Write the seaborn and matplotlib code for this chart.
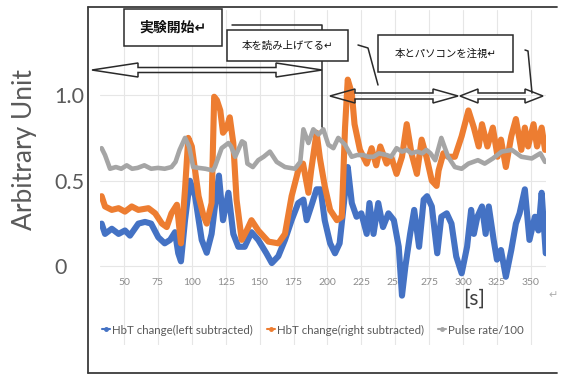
import matplotlib
matplotlib.use("Agg")
import matplotlib.pyplot as plt
from matplotlib.patches import Polygon, Rectangle
from matplotlib.lines import Line2D
import numpy as np
import pandas as pd
import seaborn as sns

# ---- data -------------------------------------------------------------
left_t = [33.5, 36, 41, 46, 50.7, 54.4, 60.6, 65.5, 70, 75.3, 80, 84, 87.6, 90, 92, 95,
          98.6, 102.4, 107.3, 111, 114.6, 118.3, 120, 123, 127, 130.6, 134.3, 139, 144,
          149, 155, 159, 163.8, 168.7, 173.6, 178.5, 182.3, 184.7, 188, 192, 195, 198,
          202, 205.6, 209, 213, 215, 218, 221.5, 225, 229, 231, 234, 237.5, 241, 245,
          249, 252.6, 255, 257.5, 261, 264, 267.6, 271, 273.5, 277, 281, 284, 288, 291.5,
          295, 299, 303, 306, 308, 310.6, 314, 316.7, 319, 322.6, 325, 328, 331.6, 335.6,
          339, 341.7, 345.6, 349, 353, 355.6, 358, 361]
left_v = [0.25, 0.19, 0.22, 0.19, 0.21, 0.18, 0.25, 0.26, 0.25, 0.17, 0.135, 0.155, 0.20,
          0.077, 0.03, 0.27, 0.50, 0.41, 0.155, 0.08, 0.19, 0.43, 0.53, 0.27, 0.43, 0.19,
          0.115, 0.115, 0.20, 0.155, 0.077, 0.02, 0.06, 0.155, 0.27, 0.37, 0.39, 0.27, 0.35,
          0.45, 0.45, 0.27, 0.135, 0.077, 0.135, 0.43, 0.58, 0.37, 0.29, 0.31, 0.19, 0.37,
          0.19, 0.37, 0.23, 0.31, 0.27, 0.115, -0.17, 0.0, 0.19, 0.33, 0.115, 0.39, 0.41,
          0.35, 0.077, 0.29, 0.31, 0.25, 0.058, -0.04, 0.115, 0.33, 0.19, 0.29, 0.35, 0.19,
          0.35, 0.155, 0.04, 0.096, -0.06, 0.096, 0.25, 0.31, 0.45, 0.155, 0.29, 0.21, 0.43,
          0.077]

right_t = [33.5, 36, 41, 46, 50.7, 55.7, 60.6, 68, 73, 78, 81.5, 85, 89, 92, 95, 97.4, 100,
           105, 108.5, 111, 114.6, 116.5, 118.5, 121, 123, 125.8, 128, 130.6, 133, 136.8,
           140.5, 144, 149, 156.5, 163.8, 168.7, 173.6, 178.5, 182, 186, 188, 192, 194.5,
           198, 202, 207, 210.6, 213, 215, 218, 220, 224, 229, 232.6, 236, 239, 243.7, 247,
           251, 255, 258.5, 262, 266, 269.5, 273, 277, 280.5, 282, 285.5, 289, 294, 299, 304,
           308, 311.6, 314, 318, 322, 325.5, 328, 331.6, 335.6, 339, 343, 345.6, 348, 352,
           354.6, 358, 360.5]
right_v = [0.41, 0.35, 0.33, 0.34, 0.32, 0.35, 0.33, 0.34, 0.31, 0.25, 0.23, 0.31, 0.36,
           0.135, 0.45, 0.75, 0.70, 0.41, 0.30, 0.25, 0.37, 0.99, 0.97, 0.91, 0.78, 0.81,
           0.87, 0.72, 0.39, 0.155, 0.21, 0.27, 0.21, 0.145, 0.135, 0.19, 0.41, 0.56, 0.60,
           0.43, 0.56, 0.78, 0.63, 0.47, 0.33, 0.27, 0.29, 0.81, 1.09, 1.01, 0.83, 0.68,
           0.60, 0.69, 0.59, 0.70, 0.60, 0.64, 0.54, 0.64, 0.83, 0.66, 0.54, 0.74, 0.64,
           0.50, 0.47, 0.56, 0.66, 0.64, 0.64, 0.76, 0.91, 0.81, 0.70, 0.83, 0.70, 0.81,
           0.64, 0.74, 0.58, 0.76, 0.86, 0.68, 0.81, 0.70, 0.83, 0.70, 0.81, 0.68]

pulse_t = [33.5, 36, 39.7, 44, 48, 52, 56, 60, 65, 70, 75, 80, 85, 88, 91, 95, 98, 101, 105,
           110, 115.6, 117, 122, 127, 129, 132, 137, 139, 141, 145, 149, 153, 157.6, 162.6,
           168.7, 176, 180, 182.3, 186, 189.6, 193.4, 197, 200.7, 204.4, 208, 213, 217.9,
           222, 226.5, 230, 234, 238, 243.7, 247, 251, 255, 258.5, 262, 266, 270, 273, 276,
           279.5, 284, 289, 294, 299, 304, 311, 316, 322, 328.5, 336, 343, 350.7, 357, 360.5]
pulse_v = [0.69, 0.65, 0.57, 0.58, 0.57, 0.59, 0.57, 0.575, 0.59, 0.57, 0.575, 0.57, 0.58,
           0.61, 0.68, 0.75, 0.70, 0.58, 0.575, 0.57, 0.56, 0.58, 0.69, 0.72, 0.70, 0.64,
           0.73, 0.72, 0.60, 0.58, 0.62, 0.64, 0.67, 0.61, 0.58, 0.57, 0.61, 0.80, 0.72,
           0.80, 0.77, 0.80, 0.71, 0.69, 0.75, 0.71, 0.64, 0.65, 0.65, 0.64, 0.64, 0.66,
           0.65, 0.64, 0.69, 0.67, 0.68, 0.66, 0.67, 0.66, 0.68, 0.66, 0.62, 0.75, 0.64,
           0.58, 0.57, 0.60, 0.62, 0.60, 0.63, 0.67, 0.68, 0.64, 0.63, 0.66, 0.61]

series_names = ["HbT change(left subtracted)", "HbT change(right subtracted)", "Pulse rate/100"]
series_colors = ["#4472C4", "#ED7D31", "#A5A5A5"]
x_ticks = [50, 75, 100, 125, 150, 175, 200, 225, 250, 275, 300, 325, 350]
y_ticks = [0, 0.5, 1.0]
y_tick_labels = ["0", "0.5", "1.0"]

# ---- styling ----------------------------------------------------------
sns.set_style("white")
plt.rcParams["font.family"] = ["Lato", "DejaVu Sans"]

W, H = 566, 376
fig = plt.figure(figsize=(W / 100, H / 100), dpi=100)


def fx(x):
    return x / W


def fy(y):
    return 1 - y / H


ax = fig.add_axes([fx(100), fy(345), (546 - 100) / W, (345 - 10) / H])

frames = [pd.DataFrame({"t": left_t, "v": left_v}),
          pd.DataFrame({"t": right_t, "v": right_v}),
          pd.DataFrame({"t": pulse_t, "v": pulse_v})]
widths = [4.4, 4.4, 3.3]
for df, c, lw in zip(frames, series_colors, widths):
    sns.lineplot(data=df, x="t", y="v", ax=ax, color=c, lw=lw, sort=False,
                 estimator=None, legend=False, solid_joinstyle="round")

ax.set_xlim(32.3, 361.2)
ax.set_ylim(-0.458, 1.496)
ax.set_xlabel("")
ax.set_ylabel("")
for sp in ax.spines.values():
    sp.set_visible(False)
ax.spines["bottom"].set_position(("data", 0))

ax.set_xticks(x_ticks)
ax.set_xticklabels([str(v) for v in x_ticks])
ax.set_yticks(y_ticks)
ax.set_yticklabels(y_tick_labels)
ax.grid(True, color="#E6E6E6", lw=0.8)
ax.set_axisbelow(True)
ax.tick_params(axis="x", length=0, pad=8, labelsize=7.5, labelcolor="#8C8C8C")
ax.tick_params(axis="y", length=0, pad=33, labelsize=15.5, labelcolor="#5A5A5A")
for lbl in ax.get_yticklabels():
    lbl.set_horizontalalignment("left")

# ---- outer frame ------------------------------------------------------
frame_kw = dict(color="#3A3A3A", lw=1.3, transform=fig.transFigure)
fig.add_artist(Line2D([fx(88), fx(88)], [fy(7), fy(373)], **frame_kw))
fig.add_artist(Line2D([fx(88), fx(557)], [fy(7), fy(7)], **frame_kw))
fig.add_artist(Line2D([fx(88), fx(557)], [fy(373), fy(373)], **frame_kw))

# ---- axis captions ----------------------------------------------------
fig.text(fx(25), fy(150), "Arbitrary Unit", rotation=90, ha="center", va="center",
         fontsize=19, color="#5A5A5A")
fig.text(fx(474), fy(299), "[s]", ha="center", va="center", fontsize=15,
         color="#404040")
fig.text(fx(553), fy(295), "↵", ha="center", va="center", fontsize=8, color="#B0B0B0",
         family=["DejaVu Sans"])

# ---- legend -----------------------------------------------------------
handles = [Line2D([0], [0], color=c, lw=1.5, marker="o", ms=2.5) for c in series_colors]
fig.legend(handles, series_names, loc="center", bbox_to_anchor=(fx(313), fy(330)),
           ncol=3, frameon=False, handlelength=0.7, handletextpad=0.2,
           columnspacing=1.2, prop={"family": ["Lato", "DejaVu Sans"], "size": 8.3},
           labelcolor="#595959")

# ---- phase annotations --------------------------------------------------
cjk = ["Noto Sans CJK JP", "DejaVu Sans"]


def double_arrow(x0, x1, y, head_len, head_half, shaft_half):
    pts = [(x0, y), (x0 + head_len, y - head_half), (x0 + head_len, y - shaft_half),
           (x1 - head_len, y - shaft_half), (x1 - head_len, y - head_half), (x1, y),
           (x1 - head_len, y + head_half), (x1 - head_len, y + shaft_half),
           (x0 + head_len, y + shaft_half), (x0 + head_len, y + head_half)]
    poly = Polygon([(fx(a), fy(b)) for a, b in pts], closed=True, fill=False,
                   edgecolor="#2A2A2A", lw=1.1, transform=fig.transFigure, zorder=3)
    fig.add_artist(poly)


def connector(points):
    xs = [fx(p[0]) for p in points]
    ys = [fy(p[1]) for p in points]
    fig.add_artist(Line2D(xs, ys, color="#2A2A2A", lw=1.1, transform=fig.transFigure,
                          zorder=3))


def label_box(x0, y0, x1, y1, text, size, tx=None, bold=False):
    fig.add_artist(Rectangle((fx(x0), fy(y1)), (x1 - x0) / W, (y1 - y0) / H,
                             facecolor="white", edgecolor="#2A2A2A", lw=1.1,
                             transform=fig.transFigure, zorder=4))
    cx = (x0 + x1) / 2 if tx is None else tx
    fig.text(fx(cx), fy((y0 + y1) / 2), text, ha="center", va="center", fontsize=size,
             family=cjk, weight="bold" if bold else "normal", color="#111111", zorder=5)


double_arrow(92, 322, 70, 46, 7, 2.5)
double_arrow(330, 458, 96, 25, 7, 3)
double_arrow(460, 543, 96, 18, 7, 3)

connector([(232, 25), (322, 25), (322, 127)])
connector([(358, 45), (368, 48), (378, 85)])
connector([(525, 50), (528, 51), (532, 93)])

label_box(124, 9, 222, 46, "実験開始↵", 10, bold=True)
label_box(227, 30, 348, 61, "本を読み上げてる↵", 7.5)
label_box(378, 35, 513, 72, "本とパソコンを注視↵", 7.5)

fig.savefig("out.png", dpi=100, facecolor="white")
